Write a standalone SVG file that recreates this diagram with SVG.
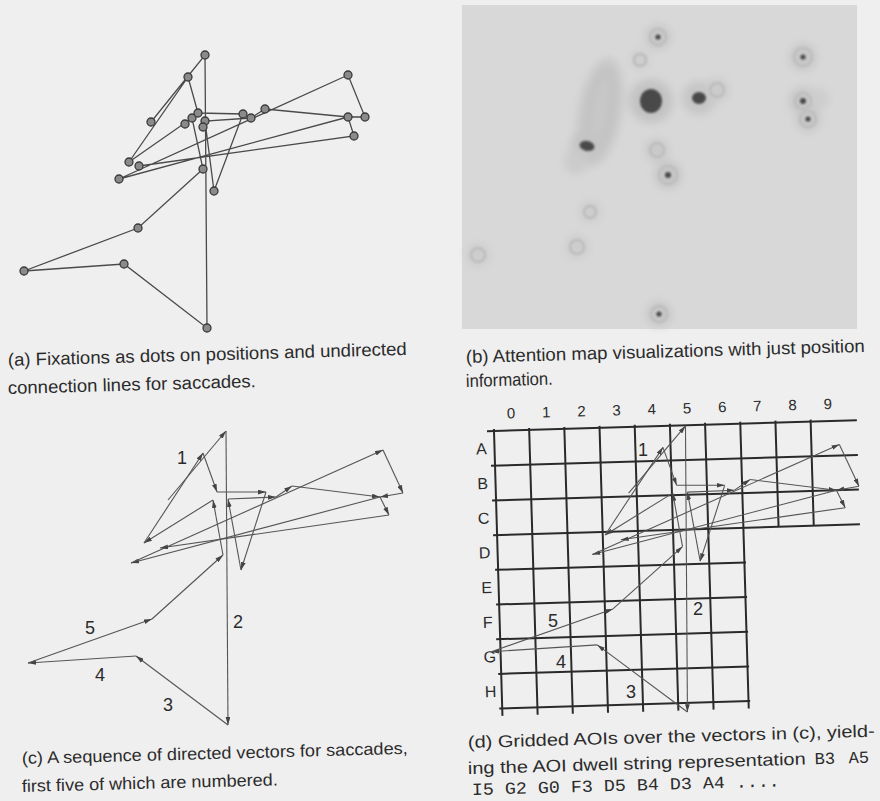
<svg xmlns="http://www.w3.org/2000/svg" xmlns:xlink="http://www.w3.org/1999/xlink" width="880" height="801" viewBox="0 0 880 801">
<defs>
<style>
.txt{font-family:"Liberation Sans",Arial,sans-serif;fill:#2b2b2b}
.cap{font-size:17px}
.capn{font-size:18px}
.num{font-size:18px;text-anchor:middle}
.glab{font-size:16px;text-anchor:middle}
.mono{font-family:"Liberation Mono","Courier New",monospace;font-size:17px;fill:#2b2b2b}
.sa{stroke:#4a4a4a;stroke-width:1.3;fill:none}
.fx{fill:#8a8a8a;stroke:#3a3a3a;stroke-width:1.3}
.grid line{stroke:#2a2a2a;stroke-width:2}
.halo{filter:url(#bl5)}
.dot{fill:#4a4a4a;filter:url(#bl1)}
.ring{fill:none;stroke:#bdbdbd;stroke-width:2.5;filter:url(#bl1)}
</style>
<marker id="ah" viewBox="0 0 10 6" refX="10" refY="3" markerWidth="8" markerHeight="5" markerUnits="userSpaceOnUse" orient="auto">
<path d="M0,0 L10,3 L0,6 z" fill="#444"/>
</marker>
<filter id="bl5" x="-50%" y="-50%" width="200%" height="200%"><feGaussianBlur stdDeviation="4"/></filter>
<filter id="bl1" x="-50%" y="-50%" width="200%" height="200%"><feGaussianBlur stdDeviation="0.8"/></filter>
<g id="vec" stroke="#555" stroke-width="1.1" fill="none" marker-end="url(#ah)">
<line x1="168" y1="500" x2="226" y2="431"/>
<line x1="226" y1="431" x2="228" y2="725"/>
<line x1="228" y1="725" x2="136" y2="656"/>
<line x1="136" y1="656" x2="28" y2="663"/>
<line x1="28" y1="663" x2="152" y2="619"/>
<line x1="152" y1="619" x2="223" y2="555"/>
<line x1="223" y1="555" x2="213" y2="500"/>
<line x1="213" y1="500" x2="144" y2="543"/>
<line x1="144" y1="543" x2="203" y2="453"/>
<line x1="203" y1="453" x2="217" y2="492"/>
<line x1="217" y1="492" x2="266" y2="492"/>
<line x1="266" y1="492" x2="241" y2="570"/>
<line x1="241" y1="570" x2="228" y2="499"/>
<line x1="228" y1="499" x2="276" y2="497"/>
<line x1="276" y1="497" x2="292" y2="486"/>
<line x1="292" y1="486" x2="380" y2="497"/>
<line x1="380" y1="497" x2="131" y2="563"/>
<line x1="131" y1="563" x2="383" y2="450"/>
<line x1="383" y1="450" x2="403" y2="493"/>
<line x1="403" y1="493" x2="380" y2="497"/>
<line x1="380" y1="497" x2="389" y2="515"/>
<line x1="389" y1="515" x2="160" y2="548"/>
</g>
</defs>
<rect width="880" height="801" fill="#efefef"/>

<!-- (a) fixations and undirected saccades -->
<g id="a-saccades">
<polyline class="sa" points="151,122 205,55 207,328 124,264 24,271 138,228 203,169 192,118 129,162 188,77 198,113 243,114 214,191 205,121 251,118 265,109 348,117 119,179 348,75 365,117 348,117 354,136 139,166"/>
</g>
<g id="a-fixations">
<g id="a-f1"><circle class="fx" cx="151" cy="122" r="4"/></g>
<g id="a-f2"><circle class="fx" cx="205" cy="55" r="4"/></g>
<g id="a-f3"><circle class="fx" cx="207" cy="328" r="4"/></g>
<g id="a-f4"><circle class="fx" cx="124" cy="264" r="4"/></g>
<g id="a-f5"><circle class="fx" cx="24" cy="271" r="4"/></g>
<g id="a-f6"><circle class="fx" cx="138" cy="228" r="4"/></g>
<g id="a-f7"><circle class="fx" cx="203" cy="169" r="4"/></g>
<g id="a-f8"><circle class="fx" cx="192" cy="118" r="4"/></g>
<g id="a-f9"><circle class="fx" cx="129" cy="162" r="4"/></g>
<g id="a-f10"><circle class="fx" cx="188" cy="77" r="4"/></g>
<g id="a-f11"><circle class="fx" cx="198" cy="113" r="4"/></g>
<g id="a-f12"><circle class="fx" cx="243" cy="114" r="4"/></g>
<g id="a-f13"><circle class="fx" cx="214" cy="191" r="4"/></g>
<g id="a-f14"><circle class="fx" cx="205" cy="121" r="4"/></g>
<g id="a-f15"><circle class="fx" cx="251" cy="118" r="4"/></g>
<g id="a-f16"><circle class="fx" cx="265" cy="109" r="4"/></g>
<g id="a-f17"><circle class="fx" cx="348" cy="75" r="4"/></g>
<g id="a-f18"><circle class="fx" cx="365" cy="117" r="4"/></g>
<g id="a-f19"><circle class="fx" cx="348" cy="117" r="4"/></g>
<g id="a-f20"><circle class="fx" cx="354" cy="136" r="4"/></g>
<g id="a-f21"><circle class="fx" cx="139" cy="166" r="4"/></g>
<g id="a-f22"><circle class="fx" cx="119" cy="179" r="4"/></g>
<g id="a-f23"><circle class="fx" cx="185" cy="124" r="4"/></g>
<g id="a-f24"><circle class="fx" cx="203" cy="127" r="4"/></g>
</g>

<!-- (b) attention map -->
<g id="b-map">
<rect x="462" y="5" width="395" height="324" fill="#d8d8d8"/>
<g class="halo">
<ellipse cx="600" cy="112" rx="22" ry="55" fill="#c8c8c8" transform="rotate(10 600 112)"/>
<ellipse cx="600" cy="112" rx="11" ry="42" fill="none" stroke="#bfbfbf" stroke-width="5" transform="rotate(10 600 112)"/>
<circle cx="651" cy="101" r="22" fill="#c3c3c3"/>
<circle cx="699" cy="98" r="17" fill="#c6c6c6"/>
<circle cx="717" cy="90" r="12" fill="#cbcbcb"/>
<circle cx="658" cy="37" r="13" fill="#c8c8c8"/>
<circle cx="640" cy="60" r="10" fill="#cecece"/>
<circle cx="803" cy="57" r="14" fill="#c8c8c8"/>
<circle cx="803" cy="101" r="14" fill="#c6c6c6"/>
<circle cx="818" cy="99" r="11" fill="#cdcdcd"/>
<circle cx="808" cy="119" r="13" fill="#c8c8c8"/>
<circle cx="587" cy="146" r="17" fill="#c4c4c4"/>
<circle cx="576" cy="162" r="12" fill="#cbcbcb"/>
<circle cx="657" cy="150" r="12" fill="#c9c9c9"/>
<circle cx="668" cy="175" r="14" fill="#c6c6c6"/>
<circle cx="590" cy="212" r="11" fill="#cdcdcd"/>
<circle cx="577" cy="247" r="12" fill="#cdcdcd"/>
<circle cx="478" cy="255" r="12" fill="#cdcdcd"/>
<circle cx="659" cy="314" r="13" fill="#c8c8c8"/>
</g>
<circle class="ring" cx="658" cy="37" r="8"/>
<circle class="ring" cx="640" cy="60" r="6"/>
<circle class="ring" cx="803" cy="57" r="9"/>
<circle class="ring" cx="803" cy="101" r="8"/>
<circle class="ring" cx="808" cy="119" r="8"/>
<circle class="ring" cx="717" cy="90" r="7"/>
<circle class="ring" cx="657" cy="150" r="7"/>
<circle class="ring" cx="668" cy="175" r="9"/>
<circle class="ring" cx="590" cy="212" r="6"/>
<circle class="ring" cx="577" cy="247" r="7"/>
<circle class="ring" cx="478" cy="255" r="7"/>
<circle class="ring" cx="659" cy="314" r="8"/>
<ellipse class="dot" cx="651" cy="101" rx="11" ry="12"/>
<ellipse class="dot" cx="699" cy="98" rx="7" ry="6"/>
<ellipse class="dot" cx="587" cy="146" rx="7.5" ry="5" transform="rotate(12 587 146)"/>
<circle class="dot" cx="658" cy="37" r="2.6"/>
<circle class="dot" cx="803" cy="57" r="2.6"/>
<circle class="dot" cx="803" cy="101" r="3"/>
<circle class="dot" cx="808" cy="119" r="2.6"/>
<circle class="dot" cx="668" cy="175" r="3"/>
<circle class="dot" cx="659" cy="314" r="2.6"/>
</g>

<!-- captions (a) (b) -->
<g class="txt capn">
<text x="8" y="366" transform="rotate(-1.6 8 366)" textLength="399" lengthAdjust="spacingAndGlyphs">(a) Fixations as dots on positions and undirected</text>
<text x="8" y="394" transform="rotate(-1.6 8 394)" textLength="248" lengthAdjust="spacingAndGlyphs">connection lines for saccades.</text>
<text x="466" y="363" transform="rotate(-1.6 466 363)" textLength="399" lengthAdjust="spacingAndGlyphs">(b) Attention map visualizations with just position</text>
<text x="466" y="387" transform="rotate(-1.6 466 387)" textLength="87" lengthAdjust="spacingAndGlyphs">information.</text>
</g>

<!-- (c) directed saccade vectors -->
<g id="c-vectors">
<use xlink:href="#vec" href="#vec"/>
</g>
<g id="c-labels" class="txt num">
<text x="182" y="464">1</text>
<text x="238" y="628">2</text>
<text x="168" y="711">3</text>
<text x="100" y="681">4</text>
<text x="90" y="634">5</text>
</g>

<!-- (d) grid -->
<g id="d-grid" class="grid" transform="translate(494 431) rotate(-1.7)">
<line x1="-7" y1="0" x2="363" y2="0"/>
<line x1="-4" y1="34.7" x2="363" y2="34.7"/>
<line x1="-4" y1="69.4" x2="363" y2="69.4"/>
<line x1="-4" y1="104.1" x2="363" y2="104.1"/>
<line x1="-3" y1="138.8" x2="248" y2="138.8"/>
<line x1="-3" y1="173.5" x2="248" y2="173.5"/>
<line x1="-4" y1="208.2" x2="248" y2="208.2"/>
<line x1="-3" y1="242.9" x2="248" y2="242.9"/>
<line x1="-3" y1="277.6" x2="248" y2="277.6"/>
<line x1="0" y1="-2" x2="0" y2="285"/>
<line x1="35.2" y1="-2" x2="35.2" y2="285"/>
<line x1="70.4" y1="-2" x2="70.4" y2="285"/>
<line x1="105.6" y1="-2" x2="105.6" y2="285"/>
<line x1="140.8" y1="-2" x2="140.8" y2="285"/>
<line x1="176" y1="-2" x2="176" y2="285"/>
<line x1="211.2" y1="-2" x2="211.2" y2="285"/>
<line x1="246.4" y1="-2" x2="246.4" y2="285"/>
<line x1="281.6" y1="-2" x2="281.6" y2="104.1"/>
<line x1="316.8" y1="-2" x2="316.8" y2="104.1"/>
<g class="txt glab" style="font-size:15px">
<text x="17.6" y="-12">0</text>
<text x="52.8" y="-12">1</text>
<text x="88" y="-12">2</text>
<text x="123.2" y="-12">3</text>
<text x="158.4" y="-12">4</text>
<text x="193.6" y="-12">5</text>
<text x="228.8" y="-12">6</text>
<text x="264" y="-12">7</text>
<text x="299.2" y="-12">8</text>
<text x="334.4" y="-12">9</text>
</g>
<g class="txt glab">
<text x="-13" y="23">A</text>
<text x="-13" y="57.7">B</text>
<text x="-13" y="92.4">C</text>
<text x="-13" y="127.1">D</text>
<text x="-12" y="161.8">E</text>
<text x="-12" y="196.5">F</text>
<text x="-11" y="231.2">G</text>
<text x="-11" y="265.9">H</text>
</g>
</g>
<g id="d-vectors">
<use xlink:href="#vec" href="#vec" transform="matrix(0.98 0 0 0.973 464 6.6)"/>
</g>
<g id="d-labels" class="txt num">
<text x="643" y="456">1</text>
<text x="698" y="615">2</text>
<text x="631" y="698">3</text>
<text x="561" y="668">4</text>
<text x="553" y="627">5</text>
</g>

<!-- captions (c) (d) -->
<g class="txt cap">
<text x="22" y="764" transform="rotate(-1.5 22 764)" textLength="386" lengthAdjust="spacingAndGlyphs">(c) A sequence of directed vectors for saccades,</text>
<text x="22" y="792" transform="rotate(-1.5 22 792)" textLength="256" lengthAdjust="spacingAndGlyphs">first five of which are numbered.</text>
<text x="468" y="748" transform="rotate(-1.6 468 748)" textLength="407" lengthAdjust="spacingAndGlyphs">(d) Gridded AOIs over the vectors in (c), yield-</text>
<g transform="rotate(-1.6 468 774)">
<text x="468" y="774" textLength="338" lengthAdjust="spacingAndGlyphs">ing the AOI dwell string representation</text>
<text class="mono" x="815" y="774">B3</text>
<text class="mono" x="849" y="774">A5</text>
</g>
<text class="mono" x="472" y="795" transform="rotate(-1.6 472 795)" textLength="308" lengthAdjust="spacingAndGlyphs">I5 G2 G0 F3 D5 B4 D3 A4 ....</text>
</g>
</svg>
